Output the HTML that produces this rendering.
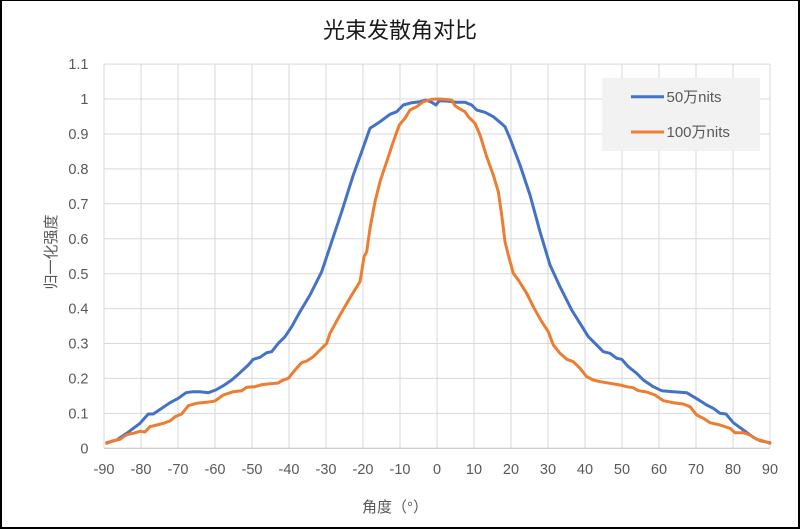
<!DOCTYPE html>
<html><head><meta charset="utf-8"><style>
html,body{margin:0;padding:0;background:#fff;}
svg{display:block;}
text{font-family:"Liberation Sans","Noto Sans CJK SC",sans-serif;}
</style></head><body>
<svg width="800" height="529" viewBox="0 0 800 529" xmlns="http://www.w3.org/2000/svg">
<rect x="0" y="0" width="800" height="529" fill="#fff"/>
<g stroke="#d9d9d9" stroke-width="1" fill="none">
<line x1="104" y1="64.1" x2="770" y2="64.1"/>
<line x1="104" y1="99" x2="770" y2="99"/>
<line x1="104" y1="134" x2="770" y2="134"/>
<line x1="104" y1="168.9" x2="770" y2="168.9"/>
<line x1="104" y1="203.8" x2="770" y2="203.8"/>
<line x1="104" y1="238.7" x2="770" y2="238.7"/>
<line x1="104" y1="273.7" x2="770" y2="273.7"/>
<line x1="104" y1="308.6" x2="770" y2="308.6"/>
<line x1="104" y1="343.5" x2="770" y2="343.5"/>
<line x1="104" y1="378.4" x2="770" y2="378.4"/>
<line x1="104" y1="413.4" x2="770" y2="413.4"/>
<line x1="104" y1="64" x2="104" y2="448"/>
<line x1="141" y1="64" x2="141" y2="448"/>
<line x1="178" y1="64" x2="178" y2="448"/>
<line x1="215" y1="64" x2="215" y2="448"/>
<line x1="252" y1="64" x2="252" y2="448"/>
<line x1="289" y1="64" x2="289" y2="448"/>
<line x1="326" y1="64" x2="326" y2="448"/>
<line x1="363" y1="64" x2="363" y2="448"/>
<line x1="400" y1="64" x2="400" y2="448"/>
<line x1="437" y1="64" x2="437" y2="448"/>
<line x1="474" y1="64" x2="474" y2="448"/>
<line x1="511" y1="64" x2="511" y2="448"/>
<line x1="548" y1="64" x2="548" y2="448"/>
<line x1="585" y1="64" x2="585" y2="448"/>
<line x1="622" y1="64" x2="622" y2="448"/>
<line x1="659" y1="64" x2="659" y2="448"/>
<line x1="696" y1="64" x2="696" y2="448"/>
<line x1="733" y1="64" x2="733" y2="448"/>
<line x1="770" y1="64" x2="770" y2="448"/>
</g>
<line x1="104" y1="448.3" x2="770" y2="448.3" stroke="#bfbfbf" stroke-width="1"/>

<g font-size="14.5" fill="#595959" text-anchor="end">
<text x="88.5" y="69.2">1.1</text>
<text x="88.5" y="104.1">1</text>
<text x="88.5" y="139.1">0.9</text>
<text x="88.5" y="174">0.8</text>
<text x="88.5" y="208.9">0.7</text>
<text x="88.5" y="243.8">0.6</text>
<text x="88.5" y="278.8">0.5</text>
<text x="88.5" y="313.7">0.4</text>
<text x="88.5" y="348.6">0.3</text>
<text x="88.5" y="383.5">0.2</text>
<text x="88.5" y="418.5">0.1</text>
<text x="88.5" y="453.4">0</text>
</g>
<g font-size="14.5" fill="#595959" text-anchor="middle">
<text x="104" y="474">-90</text>
<text x="141" y="474">-80</text>
<text x="178" y="474">-70</text>
<text x="215" y="474">-60</text>
<text x="252" y="474">-50</text>
<text x="289" y="474">-40</text>
<text x="326" y="474">-30</text>
<text x="363" y="474">-20</text>
<text x="400" y="474">-10</text>
<text x="437" y="474">0</text>
<text x="474" y="474">10</text>
<text x="511" y="474">20</text>
<text x="548" y="474">30</text>
<text x="585" y="474">40</text>
<text x="622" y="474">50</text>
<text x="659" y="474">60</text>
<text x="696" y="474">70</text>
<text x="733" y="474">80</text>
<text x="770" y="474">90</text>
</g>

<text x="400" y="38" font-size="22" fill="#1a1a1a" text-anchor="middle">光束发散角对比</text>
<text x="395" y="512" font-size="15" fill="#595959" text-anchor="middle">角度（°）</text>
<text x="0" y="0" font-size="15" fill="#595959" text-anchor="middle" transform="translate(56,252) rotate(-90)">归一化强度</text>

<polyline fill="none" stroke="#4472C4" stroke-width="3" stroke-linejoin="round" stroke-linecap="round" points="106.7,442.7 116.7,440 126.7,433.3 140,423.3 148.3,414 153.3,414 163.3,407.3 170,402.7 178.3,398.3 186,392.7 193.3,391.7 200,391.7 208.3,392.7 215.7,390 223.3,385.7 231.7,380 240,372.7 248.3,365 253.3,359.3 260,357.3 266.7,352.7 271.7,351.7 278.3,343.3 285,336.7 291.7,326.7 300,311.7 310,295 321.7,271.7 331.7,241.7 341.7,211.7 353.3,175 361.7,151.7 370,128.3 380,121.7 390,114.3 396.7,111.7 403.3,105 411.7,102.7 420,101.7 426,100 431.7,102.3 436,105 439.3,100.7 446.7,101 456.7,102.3 465,102.3 471.7,105 476.7,110 485,112.3 493.3,116.7 500,122.3 505,126.7 510,138.3 520,165 530,195 540,231.7 550,265 560,286.7 571.7,310 580,323.3 588.3,336.7 596.7,345 603.3,351.7 610,353.3 616.7,358.3 621.7,359.3 628.3,366.7 636.7,373.3 643.3,380 653.3,386.7 661.7,390.7 673.3,391.7 686.7,392.7 693.3,396.7 700,400.7 706.7,405 713.3,408.3 720,413.3 726,414 733.3,422.7 743.3,430 753.3,437.3 760,440.7 770,442.7"/>

<polyline fill="none" stroke="#ED7D31" stroke-width="3" stroke-linejoin="round" stroke-linecap="round" points="106.7,443.3 113.3,440.7 120,439.3 126.7,434.7 133.3,433.3 140,431.3 145,432 150,426.7 156.7,425 163.3,423.3 170,421 175,416.7 181.7,414 188.3,405.7 196.7,403.3 206.7,402.3 215,401 223.3,395 233.3,391.7 241.7,390.7 246.7,387.3 255,386.7 261.7,384.7 270,383.7 278.3,383 281.7,380.7 288.3,378.3 295,370 301.7,362.7 306.7,361 313.3,356.7 320,350 326.7,343.3 330,333.3 340,315 351.7,295 360,281.7 361.7,271.7 364,256.7 366.7,251.7 370,228.3 375,201.7 380,181.7 386.7,161.7 393.3,141.7 399.3,125 405,118.3 410,110 416.7,106.7 423.3,101.7 431.7,99.3 440,99 451.7,100 455,105.7 460,109 465,111.7 468.3,116.7 475,123.3 480,135 486.7,156.7 493.3,175 498.3,191.7 501.7,215 505,241.7 508.3,255 513.3,273.3 518.3,280 526.7,293.3 533.3,306.7 541.7,321.7 548.3,331.7 553.3,345 560,353.3 566.7,359.3 573.3,361.7 580,368.3 586.7,376.7 593.3,380 600,381.7 610,383.3 620,385 626.7,386.7 633.3,387.7 638.3,390.7 646.7,392 655,395 663.3,400.7 673.3,402.7 683.3,404 690,406.7 696.7,415 703.3,418.3 710,422.7 720,425 730,428.3 735,432.7 743.3,432.7 750,435 756.7,439.3 763.3,441 770,443.3"/>

<rect x="602" y="78" width="158" height="73" fill="#f2f2f2"/>
<line x1="631" y1="96.7" x2="664" y2="96.7" stroke="#4472C4" stroke-width="3"/>
<line x1="631" y1="132" x2="664" y2="132" stroke="#ED7D31" stroke-width="3"/>
<text x="666.5" y="101.8" font-size="15" fill="#595959">50万nits</text>
<text x="666.5" y="137.1" font-size="15" fill="#595959">100万nits</text>

<rect x="0" y="0" width="800" height="1" fill="#000"/>
<rect x="0" y="0" width="2" height="529" fill="#000"/>
<rect x="798" y="0" width="2" height="529" fill="#000"/>
<rect x="0" y="527" width="800" height="2" fill="#000"/>
</svg>
</body></html>
